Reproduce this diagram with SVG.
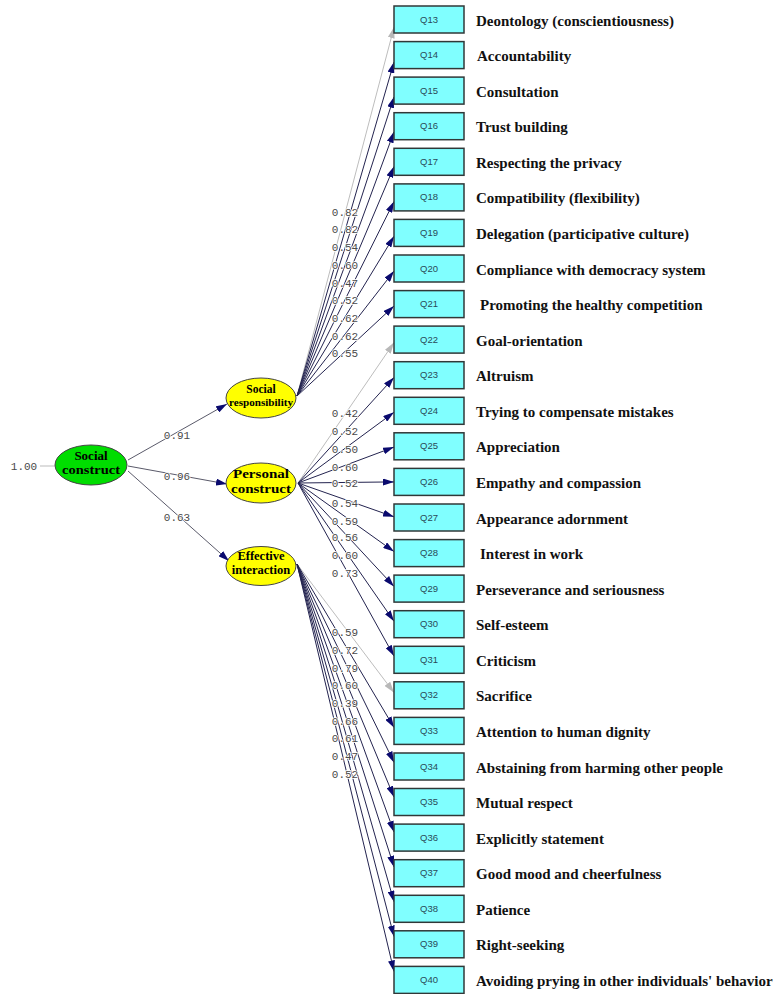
<svg xmlns="http://www.w3.org/2000/svg" width="778" height="994" viewBox="0 0 778 994">
  <style>
    .box{fill:#80ffff;stroke:#303838;stroke-width:1.5}
    .qid{font-family:"Liberation Sans",Arial,sans-serif;font-size:9.5px;fill:#2a4a58;text-anchor:middle}
    .item{font-family:"Liberation Serif","Times New Roman",serif;font-size:15px;font-weight:bold;fill:#111}
    .lat{font-family:"Liberation Serif","Times New Roman",serif;font-weight:bold;fill:#000;text-anchor:middle}
    .ell{stroke:#444;stroke-width:1}
    .ld{font-family:"Liberation Mono","Courier New",monospace;font-size:11px;fill:#4a4a4a;text-anchor:middle;stroke:#fff;stroke-width:1.5;paint-order:stroke}
    .path{fill:none;stroke:#23234f;stroke-width:1;marker-end:url(#ah)}
    .fixed{fill:none;stroke:#bdbdbd;stroke-width:1;marker-end:url(#ahg)}
    .str{fill:none;stroke:#5a5a6a;stroke-width:1;marker-end:url(#ah)}
  </style>
  <defs>
    <marker id="ah" markerUnits="userSpaceOnUse" markerWidth="11" markerHeight="7" refX="11" refY="3.5" orient="auto">
      <path d="M0,0 L11,3.5 L0,7 z" fill="#0a0a6e"/>
    </marker>
    <marker id="ahg" markerUnits="userSpaceOnUse" markerWidth="11" markerHeight="7" refX="11" refY="3.5" orient="auto">
      <path d="M0,0 L11,3.5 L0,7 z" fill="#b8b8b8"/>
    </marker>
  </defs>
  <rect width="778" height="994" fill="#fff"/>

  <!-- connectors -->
  <g id="connectors">
    <!-- variance of the second-order factor -->
    <line x1="40" y1="466" x2="55" y2="466" stroke="#bbb" stroke-width="1"/>
    <!-- second-order loadings -->
    <line class="str" x1="128" y1="460" x2="227" y2="404"/>
    <line class="str" x1="128" y1="466" x2="227" y2="484"/>
    <line class="str" x1="128" y1="471" x2="229" y2="561"/>
    <!-- Social responsibility -> Q13..Q21 -->
    <line class="fixed" x1="297" y1="396" x2="394" y2="27.3"/>
    <line class="path" x1="297" y1="396" x2="394" y2="62.1"/>
    <line class="path" x1="297" y1="396" x2="394" y2="96.9"/>
    <line class="path" x1="297" y1="396" x2="394" y2="131.8"/>
    <line class="path" x1="297" y1="396" x2="394" y2="166.6"/>
    <line class="path" x1="297" y1="396" x2="394" y2="201.5"/>
    <line class="path" x1="297" y1="396" x2="394" y2="236.3"/>
    <line class="path" x1="297" y1="396" x2="394" y2="271.1"/>
    <line class="path" x1="297" y1="396" x2="394" y2="306"/>
    <!-- Personal construct -> Q22..Q31 -->
    <line class="fixed" x1="298" y1="483" x2="394" y2="342.6"/>
    <line class="path" x1="298" y1="483" x2="394" y2="377.4"/>
    <line class="path" x1="298" y1="483" x2="394" y2="412.3"/>
    <line class="path" x1="298" y1="483" x2="394" y2="447.1"/>
    <line class="path" x1="298" y1="483" x2="394" y2="481.9"/>
    <line class="path" x1="298" y1="483" x2="394" y2="516.8"/>
    <line class="path" x1="298" y1="483" x2="394" y2="551.6"/>
    <line class="path" x1="298" y1="483" x2="394" y2="586.4"/>
    <line class="path" x1="298" y1="483" x2="394" y2="621.3"/>
    <line class="path" x1="298" y1="483" x2="394" y2="656.1"/>
    <!-- Effective interaction -> Q32..Q40 -->
    <line class="fixed" x1="297" y1="564" x2="394" y2="692.6"/>
    <line class="path" x1="297" y1="564" x2="394" y2="727.5"/>
    <line class="path" x1="297" y1="564" x2="394" y2="762.4"/>
    <line class="path" x1="297" y1="564" x2="394" y2="797.1"/>
    <line class="path" x1="297" y1="564" x2="394" y2="832"/>
    <line class="path" x1="297" y1="564" x2="394" y2="866.9"/>
    <line class="path" x1="297" y1="564" x2="394" y2="901.7"/>
    <line class="path" x1="297" y1="564" x2="394" y2="936.5"/>
    <line class="path" x1="297" y1="564" x2="394" y2="971.4"/>

    <!-- loading values -->
    <text class="ld" x="24" y="470">1.00</text>
    <text class="ld" x="177" y="439">0.91</text>
    <text class="ld" x="177" y="480">0.96</text>
    <text class="ld" x="177" y="521">0.63</text>

    <text class="ld" x="345" y="216">0.82</text>
    <text class="ld" x="345" y="233">0.82</text>
    <text class="ld" x="345" y="251">0.54</text>
    <text class="ld" x="345" y="269">0.60</text>
    <text class="ld" x="345" y="287">0.47</text>
    <text class="ld" x="345" y="304">0.52</text>
    <text class="ld" x="345" y="322">0.62</text>
    <text class="ld" x="345" y="340">0.62</text>
    <text class="ld" x="345" y="357">0.55</text>

    <text class="ld" x="345" y="417">0.42</text>
    <text class="ld" x="345" y="435">0.52</text>
    <text class="ld" x="345" y="453">0.50</text>
    <text class="ld" x="345" y="471">0.60</text>
    <text class="ld" x="345" y="487">0.52</text>
    <text class="ld" x="345" y="507">0.54</text>
    <text class="ld" x="345" y="525">0.59</text>
    <text class="ld" x="345" y="541">0.56</text>
    <text class="ld" x="345" y="559">0.60</text>
    <text class="ld" x="345" y="577">0.73</text>

    <text class="ld" x="345" y="636">0.59</text>
    <text class="ld" x="345" y="654">0.72</text>
    <text class="ld" x="345" y="672">0.79</text>
    <text class="ld" x="345" y="689">0.60</text>
    <text class="ld" x="345" y="707">0.39</text>
    <text class="ld" x="345" y="725">0.66</text>
    <text class="ld" x="345" y="742">0.61</text>
    <text class="ld" x="345" y="760">0.47</text>
    <text class="ld" x="345" y="778">0.52</text>
  </g>

  <!-- latent variables -->
  <g id="social-construct">
    <ellipse class="ell" cx="91" cy="465" rx="36" ry="20" fill="#00dd00"/>
    <text class="lat" x="91" y="459.5" font-size="13">Social</text>
    <text class="lat" x="91" y="474" font-size="13" textLength="58" lengthAdjust="spacingAndGlyphs">construct</text>
  </g>
  <g id="social-responsibility">
    <ellipse class="ell" cx="261" cy="398" rx="35" ry="20" fill="#ffff00"/>
    <text class="lat" x="261" y="392.5" font-size="11.5">Social</text>
    <text class="lat" x="261" y="405.5" font-size="11" textLength="64" lengthAdjust="spacingAndGlyphs">responsibility</text>
  </g>
  <g id="personal-construct">
    <ellipse class="ell" cx="261" cy="483" rx="35" ry="20" fill="#ffff00"/>
    <text class="lat" x="261" y="477.5" font-size="13.5" textLength="56" lengthAdjust="spacingAndGlyphs">Personal</text>
    <text class="lat" x="261" y="492.5" font-size="13.5" textLength="60" lengthAdjust="spacingAndGlyphs">construct</text>
  </g>
  <g id="effective-interaction">
    <ellipse class="ell" cx="261" cy="566" rx="35" ry="19.5" fill="#ffff00"/>
    <text class="lat" x="261" y="560" font-size="12.5">Effective</text>
    <text class="lat" x="261" y="574" font-size="12.5">interaction</text>
  </g>

  <!-- observed indicators -->
  <g id="q13"><rect class="box" x="394" y="6" width="70" height="27"/><text class="qid" x="429" y="22.5">Q13</text><text class="item" x="476" y="25.5">Deontology (conscientiousness)</text></g>
  <g id="q14"><rect class="box" x="394" y="41.6" width="70" height="27"/><text class="qid" x="429" y="58.1">Q14</text><text class="item" x="477" y="61.1">Accountability</text></g>
  <g id="q15"><rect class="box" x="394" y="77.1" width="70" height="27"/><text class="qid" x="429" y="93.6">Q15</text><text class="item" x="476" y="96.6">Consultation</text></g>
  <g id="q16"><rect class="box" x="394" y="112.7" width="70" height="27"/><text class="qid" x="429" y="129.2">Q16</text><text class="item" x="476" y="132.2">Trust building</text></g>
  <g id="q17"><rect class="box" x="394" y="148.3" width="70" height="27"/><text class="qid" x="429" y="164.8">Q17</text><text class="item" x="476" y="167.8">Respecting the privacy</text></g>
  <g id="q18"><rect class="box" x="394" y="183.9" width="70" height="27"/><text class="qid" x="429" y="200.4">Q18</text><text class="item" x="476" y="203.4">Compatibility (flexibility)</text></g>
  <g id="q19"><rect class="box" x="394" y="219.4" width="70" height="27"/><text class="qid" x="429" y="235.9">Q19</text><text class="item" x="476" y="238.9">Delegation (participative culture)</text></g>
  <g id="q20"><rect class="box" x="394" y="255" width="70" height="27"/><text class="qid" x="429" y="271.5">Q20</text><text class="item" x="476" y="274.5">Compliance with democracy system</text></g>
  <g id="q21"><rect class="box" x="394" y="290.6" width="70" height="27"/><text class="qid" x="429" y="307.1">Q21</text><text class="item" x="480" y="310.1">Promoting the healthy competition</text></g>
  <g id="q22"><rect class="box" x="394" y="326.1" width="70" height="27"/><text class="qid" x="429" y="342.6">Q22</text><text class="item" x="476" y="345.6">Goal-orientation</text></g>
  <g id="q23"><rect class="box" x="394" y="361.7" width="70" height="27"/><text class="qid" x="429" y="378.2">Q23</text><text class="item" x="476" y="381.2">Altruism</text></g>
  <g id="q24"><rect class="box" x="394" y="397.3" width="70" height="27"/><text class="qid" x="429" y="413.8">Q24</text><text class="item" x="476" y="416.8">Trying to compensate mistakes</text></g>
  <g id="q25"><rect class="box" x="394" y="432.8" width="70" height="27"/><text class="qid" x="429" y="449.3">Q25</text><text class="item" x="476" y="452.3">Appreciation</text></g>
  <g id="q26"><rect class="box" x="394" y="468.4" width="70" height="27"/><text class="qid" x="429" y="484.9">Q26</text><text class="item" x="476" y="487.9">Empathy and compassion</text></g>
  <g id="q27"><rect class="box" x="394" y="504" width="70" height="27"/><text class="qid" x="429" y="520.5">Q27</text><text class="item" x="476" y="523.5">Appearance adornment</text></g>
  <g id="q28"><rect class="box" x="394" y="539.6" width="70" height="27"/><text class="qid" x="429" y="556.1">Q28</text><text class="item" x="480" y="559.1">Interest in work</text></g>
  <g id="q29"><rect class="box" x="394" y="575.1" width="70" height="27"/><text class="qid" x="429" y="591.6">Q29</text><text class="item" x="476" y="594.6">Perseverance and seriousness</text></g>
  <g id="q30"><rect class="box" x="394" y="610.7" width="70" height="27"/><text class="qid" x="429" y="627.2">Q30</text><text class="item" x="476" y="630.2">Self-esteem</text></g>
  <g id="q31"><rect class="box" x="394" y="646.3" width="70" height="27"/><text class="qid" x="429" y="662.8">Q31</text><text class="item" x="476" y="665.8">Criticism</text></g>
  <g id="q32"><rect class="box" x="394" y="681.8" width="70" height="27"/><text class="qid" x="429" y="698.3">Q32</text><text class="item" x="476" y="701.3">Sacrifice</text></g>
  <g id="q33"><rect class="box" x="394" y="717.4" width="70" height="27"/><text class="qid" x="429" y="733.9">Q33</text><text class="item" x="476" y="736.9">Attention to human dignity</text></g>
  <g id="q34"><rect class="box" x="394" y="753" width="70" height="27"/><text class="qid" x="429" y="769.5">Q34</text><text class="item" x="476" y="772.5">Abstaining from harming other people</text></g>
  <g id="q35"><rect class="box" x="394" y="788.5" width="70" height="27"/><text class="qid" x="429" y="805">Q35</text><text class="item" x="476" y="808">Mutual respect</text></g>
  <g id="q36"><rect class="box" x="394" y="824.1" width="70" height="27"/><text class="qid" x="429" y="840.6">Q36</text><text class="item" x="476" y="843.6">Explicitly statement</text></g>
  <g id="q37"><rect class="box" x="394" y="859.7" width="70" height="27"/><text class="qid" x="429" y="876.2">Q37</text><text class="item" x="476" y="879.2">Good mood and cheerfulness</text></g>
  <g id="q38"><rect class="box" x="394" y="895.3" width="70" height="27"/><text class="qid" x="429" y="911.8">Q38</text><text class="item" x="476" y="914.8">Patience</text></g>
  <g id="q39"><rect class="box" x="394" y="930.8" width="70" height="27"/><text class="qid" x="429" y="947.3">Q39</text><text class="item" x="476" y="950.3">Right-seeking</text></g>
  <g id="q40"><rect class="box" x="394" y="966.4" width="70" height="27"/><text class="qid" x="429" y="982.9">Q40</text><text class="item" x="476" y="985.9">Avoiding prying in other individuals' behavior</text></g>
</svg>
